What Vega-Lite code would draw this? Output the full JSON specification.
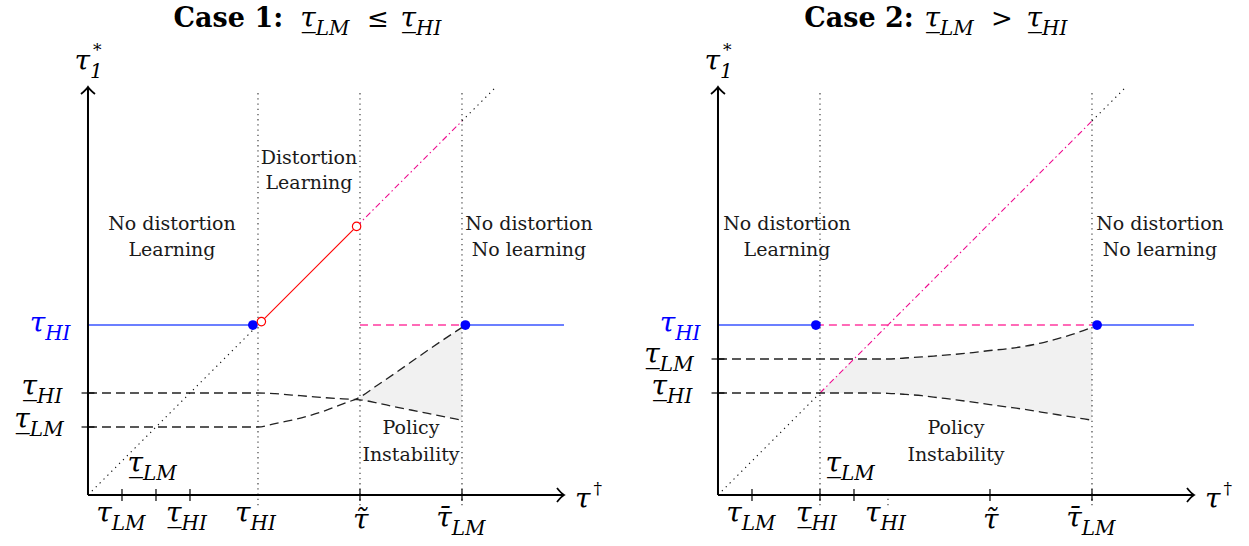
{
"$schema": "https://vega.github.io/schema/vega-lite/v6.json",
"background": "white",
"padding": 0,
"spacing": 11,
"config": {"view": {"stroke": null}},
"data": {"values": [
{"kind":"seg","panel":"1","id":"1a","series":"tauHI","x":0,"y":5},
{"kind":"seg","panel":"1","id":"1a","series":"tauHI","x":4.85,"y":5},
{"kind":"seg","panel":"1","id":"1b","series":"tauHI","x":11.1,"y":5},
{"kind":"seg","panel":"1","id":"1b","series":"tauHI","x":14,"y":5},
{"kind":"seg","panel":"1","id":"1c","series":"distortion","x":5.1,"y":5.1},
{"kind":"seg","panel":"1","id":"1c","series":"distortion","x":7.9,"y":7.9},
{"kind":"seg","panel":"1","id":"1d","series":"diag45","x":7.9,"y":7.9},
{"kind":"seg","panel":"1","id":"1d","series":"diag45","x":11,"y":11},
{"kind":"seg","panel":"1","id":"1e","series":"guide","x":0,"y":0},
{"kind":"seg","panel":"1","id":"1e","series":"guide","x":4.85,"y":4.85},
{"kind":"seg","panel":"1","id":"1f","series":"guide","x":11,"y":11},
{"kind":"seg","panel":"1","id":"1f","series":"guide","x":12,"y":12},
{"kind":"seg","panel":"1","id":"1g","series":"pinkflat","x":8,"y":5},
{"kind":"seg","panel":"1","id":"1g","series":"pinkflat","x":11.1,"y":5},
{"kind":"seg","panel":"1","id":"1j","series":"vguide","x":5,"y":-0.3},
{"kind":"seg","panel":"1","id":"1j","series":"vguide","x":5,"y":11.9},
{"kind":"seg","panel":"1","id":"1k","series":"vguide","x":8,"y":-0.3},
{"kind":"seg","panel":"1","id":"1k","series":"vguide","x":8,"y":11.9},
{"kind":"seg","panel":"1","id":"1l","series":"vguide","x":11,"y":-0.3},
{"kind":"seg","panel":"1","id":"1l","series":"vguide","x":11,"y":11.9},
{"kind":"axis","panel":"1","id":"1x","x":0,"y":0},
{"kind":"axis","panel":"1","id":"1x","x":14,"y":0},
{"kind":"axis","panel":"1","id":"1y","x":0,"y":0},
{"kind":"axis","panel":"1","id":"1y","x":0,"y":12},
{"kind":"curve","panel":"1","id":"1h","x":0,"y":3},
{"kind":"curve","panel":"1","id":"1h","x":5,"y":3},
{"kind":"curve","panel":"1","id":"1h","x":5.5,"y":2.98},
{"kind":"curve","panel":"1","id":"1h","x":6,"y":2.94},
{"kind":"curve","panel":"1","id":"1h","x":6.5,"y":2.9},
{"kind":"curve","panel":"1","id":"1h","x":7,"y":2.86},
{"kind":"curve","panel":"1","id":"1h","x":7.5,"y":2.83},
{"kind":"curve","panel":"1","id":"1h","x":8,"y":2.8},
{"kind":"curve","panel":"1","id":"1h","x":8.5,"y":2.71},
{"kind":"curve","panel":"1","id":"1h","x":9,"y":2.6},
{"kind":"curve","panel":"1","id":"1h","x":9.5,"y":2.5},
{"kind":"curve","panel":"1","id":"1h","x":10,"y":2.4},
{"kind":"curve","panel":"1","id":"1h","x":10.5,"y":2.3},
{"kind":"curve","panel":"1","id":"1h","x":11,"y":2.2},
{"kind":"curve","panel":"1","id":"1i","x":0,"y":2},
{"kind":"curve","panel":"1","id":"1i","x":5,"y":2},
{"kind":"curve","panel":"1","id":"1i","x":5.5,"y":2.1},
{"kind":"curve","panel":"1","id":"1i","x":6,"y":2.2},
{"kind":"curve","panel":"1","id":"1i","x":6.5,"y":2.33},
{"kind":"curve","panel":"1","id":"1i","x":7,"y":2.49},
{"kind":"curve","panel":"1","id":"1i","x":7.5,"y":2.68},
{"kind":"curve","panel":"1","id":"1i","x":8,"y":2.88},
{"kind":"curve","panel":"1","id":"1i","x":8.5,"y":3.22},
{"kind":"curve","panel":"1","id":"1i","x":9,"y":3.56},
{"kind":"curve","panel":"1","id":"1i","x":9.5,"y":3.91},
{"kind":"curve","panel":"1","id":"1i","x":10,"y":4.26},
{"kind":"curve","panel":"1","id":"1i","x":10.5,"y":4.6},
{"kind":"curve","panel":"1","id":"1i","x":11,"y":4.93},
{"kind":"shade","panel":"1","x":7.85,"y":2.82,"y2":2.82},
{"kind":"shade","panel":"1","x":8,"y":2.88,"y2":2.8},
{"kind":"shade","panel":"1","x":8.5,"y":3.22,"y2":2.71},
{"kind":"shade","panel":"1","x":9,"y":3.56,"y2":2.6},
{"kind":"shade","panel":"1","x":9.5,"y":3.91,"y2":2.5},
{"kind":"shade","panel":"1","x":10,"y":4.26,"y2":2.4},
{"kind":"shade","panel":"1","x":10.5,"y":4.6,"y2":2.3},
{"kind":"shade","panel":"1","x":11,"y":4.93,"y2":2.2},
{"kind":"xtick","panel":"1","x":1,"y":0},
{"kind":"xtick","panel":"1","x":2,"y":0},
{"kind":"xtick","panel":"1","x":3,"y":0},
{"kind":"xtick","panel":"1","x":8,"y":0},
{"kind":"xtick","panel":"1","x":11,"y":0},
{"kind":"ytick","panel":"1","x":0,"y":2},
{"kind":"ytick","panel":"1","x":0,"y":3},
{"kind":"arrow","panel":"1","x":14,"y":0,"dir":"right"},
{"kind":"arrow","panel":"1","x":0,"y":12,"dir":"up"},
{"kind":"dot","panel":"1","x":4.85,"y":5},
{"kind":"dot","panel":"1","x":11.1,"y":5},
{"kind":"ring","panel":"1","x":5.1,"y":5.1},
{"kind":"ring","panel":"1","x":7.9,"y":7.9},
{"kind":"word","panel":"1","x":6.5,"y":9.91,"label":"Distortion"},
{"kind":"word","panel":"1","x":6.5,"y":9.18,"label":"Learning"},
{"kind":"word","panel":"1","x":2.47,"y":7.97,"label":"No distortion"},
{"kind":"word","panel":"1","x":2.47,"y":7.21,"label":"Learning"},
{"kind":"word","panel":"1","x":12.97,"y":7.97,"label":"No distortion"},
{"kind":"word","panel":"1","x":12.97,"y":7.21,"label":"No learning"},
{"kind":"word","panel":"1","x":9.5,"y":1.97,"label":"Policy"},
{"kind":"word","panel":"1","x":9.5,"y":1.18,"label":"Instability"},
{"kind":"math","panel":"1","x":0.7,"y":-0.79,"base":"\u03c4","sub":"LM"},
{"kind":"math","panel":"1","x":2.75,"y":-0.79,"base":"\u03c4\u0332","sub":"HI"},
{"kind":"math","panel":"1","x":4.78,"y":-0.79,"base":"\u03c4","sub":"HI"},
{"kind":"math","panel":"1","x":8.25,"y":-1.0,"base":"\u03c4\u0303","sub":""},
{"kind":"math","panel":"1","x":10.7,"y":-0.94,"base":"\u03c4\u0304","sub":"LM"},
{"kind":"math","panel":"1","x":1.62,"y":0.68,"base":"\u03c4\u0332","sub":"LM"},
{"kind":"math","panel":"1","x":-1.26,"y":4.79,"base":"\u03c4","sub":"HI","group":"level"},
{"kind":"math","panel":"1","x":-1.5,"y":2.94,"base":"\u03c4\u0332","sub":"HI"},
{"kind":"math","panel":"1","x":-1.71,"y":1.97,"base":"\u03c4\u0332","sub":"LM"},
{"kind":"math","panel":"1","x":0.06,"y":12.5,"base":"\u03c4","sub":"1","sup":"*"},
{"kind":"math","panel":"1","x":14.78,"y":-0.38,"base":"\u03c4","sub":"","sup":"\u2020"},
{"kind":"math","panel":"1","x":6.7,"y":13.76,"base":"\u03c4\u0332","sub":"LM"},
{"kind":"math","panel":"1","x":9.65,"y":13.76,"base":"\u03c4\u0332","sub":"HI"},
{"kind":"head","panel":"1","x":5.74,"y":13.76,"label":"Case 1:"},
{"kind":"op","panel":"1","x":8.53,"y":13.76,"label":"\u2264"},

{"kind":"seg","panel":"2","id":"2a","series":"tauHI","x":0,"y":5},
{"kind":"seg","panel":"2","id":"2a","series":"tauHI","x":2.88,"y":5},
{"kind":"seg","panel":"2","id":"2b","series":"tauHI","x":11.15,"y":5},
{"kind":"seg","panel":"2","id":"2b","series":"tauHI","x":14,"y":5},
{"kind":"seg","panel":"2","id":"2c","series":"pinkflat","x":2.88,"y":5},
{"kind":"seg","panel":"2","id":"2c","series":"pinkflat","x":11.15,"y":5},
{"kind":"seg","panel":"2","id":"2d","series":"diag45","x":3,"y":3},
{"kind":"seg","panel":"2","id":"2d","series":"diag45","x":11,"y":11},
{"kind":"seg","panel":"2","id":"2e","series":"guide","x":0,"y":0},
{"kind":"seg","panel":"2","id":"2e","series":"guide","x":3,"y":3},
{"kind":"seg","panel":"2","id":"2f","series":"guide","x":11,"y":11},
{"kind":"seg","panel":"2","id":"2f","series":"guide","x":12,"y":12},
{"kind":"seg","panel":"2","id":"2i","series":"vguide","x":3,"y":-0.3},
{"kind":"seg","panel":"2","id":"2i","series":"vguide","x":3,"y":11.9},
{"kind":"seg","panel":"2","id":"2j","series":"vguide","x":11,"y":-0.3},
{"kind":"seg","panel":"2","id":"2j","series":"vguide","x":11,"y":11.9},
{"kind":"seg","panel":"2","id":"2k","series":"vguide","x":5,"y":-0.3},
{"kind":"seg","panel":"2","id":"2k","series":"vguide","x":5,"y":0},
{"kind":"axis","panel":"2","id":"2x","x":0,"y":0},
{"kind":"axis","panel":"2","id":"2x","x":14,"y":0},
{"kind":"axis","panel":"2","id":"2y","x":0,"y":0},
{"kind":"axis","panel":"2","id":"2y","x":0,"y":12},
{"kind":"curve","panel":"2","id":"2g","x":0,"y":4},
{"kind":"curve","panel":"2","id":"2g","x":5,"y":4},
{"kind":"curve","panel":"2","id":"2g","x":5.5,"y":4.03},
{"kind":"curve","panel":"2","id":"2g","x":6,"y":4.06},
{"kind":"curve","panel":"2","id":"2g","x":6.5,"y":4.1},
{"kind":"curve","panel":"2","id":"2g","x":7,"y":4.14},
{"kind":"curve","panel":"2","id":"2g","x":7.5,"y":4.19},
{"kind":"curve","panel":"2","id":"2g","x":8,"y":4.25},
{"kind":"curve","panel":"2","id":"2g","x":8.5,"y":4.3},
{"kind":"curve","panel":"2","id":"2g","x":9,"y":4.37},
{"kind":"curve","panel":"2","id":"2g","x":9.5,"y":4.47},
{"kind":"curve","panel":"2","id":"2g","x":10,"y":4.6},
{"kind":"curve","panel":"2","id":"2g","x":10.5,"y":4.75},
{"kind":"curve","panel":"2","id":"2g","x":11,"y":4.93},
{"kind":"curve","panel":"2","id":"2h","x":0,"y":3},
{"kind":"curve","panel":"2","id":"2h","x":4.5,"y":3},
{"kind":"curve","panel":"2","id":"2h","x":5,"y":2.99},
{"kind":"curve","panel":"2","id":"2h","x":5.5,"y":2.96},
{"kind":"curve","panel":"2","id":"2h","x":6,"y":2.92},
{"kind":"curve","panel":"2","id":"2h","x":6.5,"y":2.86},
{"kind":"curve","panel":"2","id":"2h","x":7,"y":2.8},
{"kind":"curve","panel":"2","id":"2h","x":7.5,"y":2.73},
{"kind":"curve","panel":"2","id":"2h","x":8,"y":2.66},
{"kind":"curve","panel":"2","id":"2h","x":8.5,"y":2.59},
{"kind":"curve","panel":"2","id":"2h","x":9,"y":2.52},
{"kind":"curve","panel":"2","id":"2h","x":9.5,"y":2.44},
{"kind":"curve","panel":"2","id":"2h","x":10,"y":2.36},
{"kind":"curve","panel":"2","id":"2h","x":10.5,"y":2.28},
{"kind":"curve","panel":"2","id":"2h","x":11,"y":2.2},
{"kind":"shade","panel":"2","x":3,"y":3,"y2":3},
{"kind":"shade","panel":"2","x":3.5,"y":3.5,"y2":3},
{"kind":"shade","panel":"2","x":4,"y":4,"y2":3},
{"kind":"shade","panel":"2","x":4.5,"y":4,"y2":3},
{"kind":"shade","panel":"2","x":5,"y":4,"y2":2.99},
{"kind":"shade","panel":"2","x":5.5,"y":4.03,"y2":2.96},
{"kind":"shade","panel":"2","x":6,"y":4.06,"y2":2.92},
{"kind":"shade","panel":"2","x":6.5,"y":4.1,"y2":2.86},
{"kind":"shade","panel":"2","x":7,"y":4.14,"y2":2.8},
{"kind":"shade","panel":"2","x":7.5,"y":4.19,"y2":2.73},
{"kind":"shade","panel":"2","x":8,"y":4.25,"y2":2.66},
{"kind":"shade","panel":"2","x":8.5,"y":4.3,"y2":2.59},
{"kind":"shade","panel":"2","x":9,"y":4.37,"y2":2.52},
{"kind":"shade","panel":"2","x":9.5,"y":4.47,"y2":2.44},
{"kind":"shade","panel":"2","x":10,"y":4.6,"y2":2.36},
{"kind":"shade","panel":"2","x":10.5,"y":4.75,"y2":2.28},
{"kind":"shade","panel":"2","x":11,"y":4.93,"y2":2.2},
{"kind":"xtick","panel":"2","x":1,"y":0},
{"kind":"xtick","panel":"2","x":3,"y":0},
{"kind":"xtick","panel":"2","x":4,"y":0},
{"kind":"xtick","panel":"2","x":8,"y":0},
{"kind":"xtick","panel":"2","x":11,"y":0},
{"kind":"ytick","panel":"2","x":0,"y":3},
{"kind":"ytick","panel":"2","x":0,"y":4},
{"kind":"arrow","panel":"2","x":14,"y":0,"dir":"right"},
{"kind":"arrow","panel":"2","x":0,"y":12,"dir":"up"},
{"kind":"dot","panel":"2","x":2.88,"y":5},
{"kind":"dot","panel":"2","x":11.15,"y":5},
{"kind":"word","panel":"2","x":2.03,"y":7.97,"label":"No distortion"},
{"kind":"word","panel":"2","x":2.03,"y":7.21,"label":"Learning"},
{"kind":"word","panel":"2","x":13.0,"y":7.97,"label":"No distortion"},
{"kind":"word","panel":"2","x":13.0,"y":7.21,"label":"No learning"},
{"kind":"word","panel":"2","x":7.0,"y":1.97,"label":"Policy"},
{"kind":"word","panel":"2","x":7.0,"y":1.18,"label":"Instability"},
{"kind":"math","panel":"2","x":0.7,"y":-0.79,"base":"\u03c4","sub":"LM"},
{"kind":"math","panel":"2","x":2.75,"y":-0.79,"base":"\u03c4\u0332","sub":"HI"},
{"kind":"math","panel":"2","x":4.78,"y":-0.79,"base":"\u03c4","sub":"HI"},
{"kind":"math","panel":"2","x":8.25,"y":-1.0,"base":"\u03c4\u0303","sub":""},
{"kind":"math","panel":"2","x":10.7,"y":-0.94,"base":"\u03c4\u0304","sub":"LM"},
{"kind":"math","panel":"2","x":3.62,"y":0.68,"base":"\u03c4\u0332","sub":"LM"},
{"kind":"math","panel":"2","x":-1.26,"y":4.79,"base":"\u03c4","sub":"HI","group":"level"},
{"kind":"math","panel":"2","x":-1.71,"y":3.88,"base":"\u03c4\u0332","sub":"LM"},
{"kind":"math","panel":"2","x":-1.5,"y":2.94,"base":"\u03c4\u0332","sub":"HI"},
{"kind":"math","panel":"2","x":0.06,"y":12.5,"base":"\u03c4","sub":"1","sup":"*"},
{"kind":"math","panel":"2","x":14.78,"y":-0.38,"base":"\u03c4","sub":"","sup":"\u2020"},
{"kind":"math","panel":"2","x":6.53,"y":13.76,"base":"\u03c4\u0332","sub":"LM"},
{"kind":"math","panel":"2","x":9.53,"y":13.76,"base":"\u03c4\u0332","sub":"HI"},
{"kind":"head","panel":"2","x":5.76,"y":13.76,"label":"Case 2:"},
{"kind":"op","panel":"2","x":8.35,"y":13.76,"label":">"}
]},
"facet": {"column": {"field": "panel", "type": "nominal", "header": null}},
"spec": {
  "width": 619,
  "height": 546,
  "encoding": {
    "x": {"field": "x", "type": "quantitative", "scale": {"domain": [-2.588, 15.618], "nice": false, "zero": false}, "axis": null},
    "y": {"field": "y", "type": "quantitative", "scale": {"domain": [-1.5, 14.559], "nice": false, "zero": false}, "axis": null}
  },
  "layer": [
    {"transform": [{"filter": "datum.kind === 'shade'"}],
     "mark": {"type": "area", "color": "#f1f1f1", "opacity": 1, "interpolate": "linear"},
     "encoding": {"y2": {"field": "y2"}}},
    {"transform": [{"filter": "datum.kind === 'seg' && datum.series === 'guide'"}],
     "mark": {"type": "line", "strokeWidth": 1.1, "color": "#111111", "strokeDash": [1.3, 4.2]},
     "encoding": {"detail": {"field": "id"}}},
    {"transform": [{"filter": "datum.kind === 'seg' && datum.series === 'vguide'"}],
     "mark": {"type": "line", "strokeWidth": 1.1, "color": "#333333", "strokeDash": [1.3, 3.9]},
     "encoding": {"detail": {"field": "id"}}},
    {"transform": [{"filter": "datum.kind === 'seg' && datum.series === 'distortion'"}],
     "mark": {"type": "line", "strokeWidth": 1.1, "color": "#ff0000"},
     "encoding": {"detail": {"field": "id"}}},
    {"transform": [{"filter": "datum.kind === 'seg' && datum.series === 'diag45'"}],
     "mark": {"type": "line", "strokeWidth": 1.1, "color": "#ee0a8e", "strokeDash": [6, 3, 1.5, 3]},
     "encoding": {"detail": {"field": "id"}}},
    {"transform": [{"filter": "datum.kind === 'curve'"}],
     "mark": {"type": "line", "strokeWidth": 1.3, "color": "#222222", "strokeDash": [9, 5], "interpolate": "monotone"},
     "encoding": {"detail": {"field": "id"}}},
    {"transform": [{"filter": "datum.kind === 'seg' && datum.series === 'tauHI'"}],
     "mark": {"type": "line", "strokeWidth": 1.5, "color": "#3a55ff"},
     "encoding": {"detail": {"field": "id"}}},
    {"transform": [{"filter": "datum.kind === 'seg' && datum.series === 'pinkflat'"}],
     "mark": {"type": "line", "strokeWidth": 1.5, "color": "#ff3aa0", "strokeDash": [8, 5]},
     "encoding": {"detail": {"field": "id"}}},
    {"transform": [{"filter": "datum.kind === 'axis'"}],
     "mark": {"type": "line", "strokeWidth": 2, "color": "#000000"},
     "encoding": {"detail": {"field": "id"}}},
    {"transform": [{"filter": "datum.kind === 'xtick'"}],
     "mark": {"type": "rule", "color": "#000000", "strokeWidth": 1.2},
     "encoding": {"y": {"datum": -0.18, "type": "quantitative"}, "y2": {"datum": 0.18}}},
    {"transform": [{"filter": "datum.kind === 'ytick'"}],
     "mark": {"type": "rule", "color": "#000000", "strokeWidth": 1.2},
     "encoding": {"x": {"datum": -0.19, "type": "quantitative"}, "x2": {"datum": 0.19}}},
    {"transform": [{"filter": "datum.kind === 'arrow'"}],
     "mark": {"type": "point", "filled": false, "color": "#000000", "strokeWidth": 1.8, "size": 196, "opacity": 1},
     "encoding": {"shape": {"field": "dir", "type": "nominal", "legend": null,
       "scale": {"domain": ["right", "up"], "range": ["M-1,-1Q-0.35,-0.2 0,0Q-0.35,0.2 -1,1", "M-1,1Q-0.2,0.35 0,0Q0.2,0.35 1,1"]}}}},
    {"transform": [{"filter": "datum.kind === 'dot'"}],
     "mark": {"type": "point", "shape": "circle", "filled": true, "color": "#0000ff", "size": 95, "opacity": 1}},
    {"transform": [{"filter": "datum.kind === 'ring'"}],
     "mark": {"type": "point", "shape": "circle", "filled": true, "color": "#ff0000", "fill": "#ffffff", "stroke": "#ff0000", "strokeWidth": 1.2, "size": 70, "opacity": 1}},
    {"transform": [{"filter": "datum.kind === 'word'"}],
     "mark": {"type": "text", "font": "DejaVu Serif", "fontSize": 19, "align": "center", "baseline": "middle", "color": "#1a1a1a"},
     "encoding": {"text": {"field": "label"}}},
    {"transform": [{"filter": "datum.kind === 'math'"}],
     "mark": {"type": "text", "font": "DejaVu Serif", "fontStyle": "italic", "fontSize": 28, "align": "right", "baseline": "alphabetic"},
     "encoding": {"text": {"field": "base"},
       "color": {"condition": {"test": "datum.group === 'level'", "value": "#0000ff"}, "value": "#000000"}}},
    {"transform": [{"filter": "datum.kind === 'math' && datum.sub"}],
     "mark": {"type": "text", "font": "DejaVu Serif", "fontStyle": "italic", "fontSize": 20, "align": "left", "baseline": "alphabetic", "dx": 0, "dy": 8},
     "encoding": {"text": {"field": "sub"},
       "color": {"condition": {"test": "datum.group === 'level'", "value": "#0000ff"}, "value": "#000000"}}},
    {"transform": [{"filter": "datum.kind === 'math' && datum.sup"}],
     "mark": {"type": "text", "font": "DejaVu Serif", "fontSize": 17, "align": "left", "baseline": "alphabetic", "dx": 3, "dy": -14, "color": "#000000"},
     "encoding": {"text": {"field": "sup"}}},
    {"transform": [{"filter": "datum.kind === 'head'"}],
     "mark": {"type": "text", "font": "DejaVu Serif", "fontWeight": "bold", "fontSize": 27, "align": "right", "baseline": "alphabetic", "color": "#000000"},
     "encoding": {"text": {"field": "label"}}},
    {"transform": [{"filter": "datum.kind === 'op'"}],
     "mark": {"type": "text", "font": "DejaVu Serif", "fontSize": 26, "align": "center", "baseline": "alphabetic", "color": "#000000"},
     "encoding": {"text": {"field": "label"}}}
  ]
}
}
